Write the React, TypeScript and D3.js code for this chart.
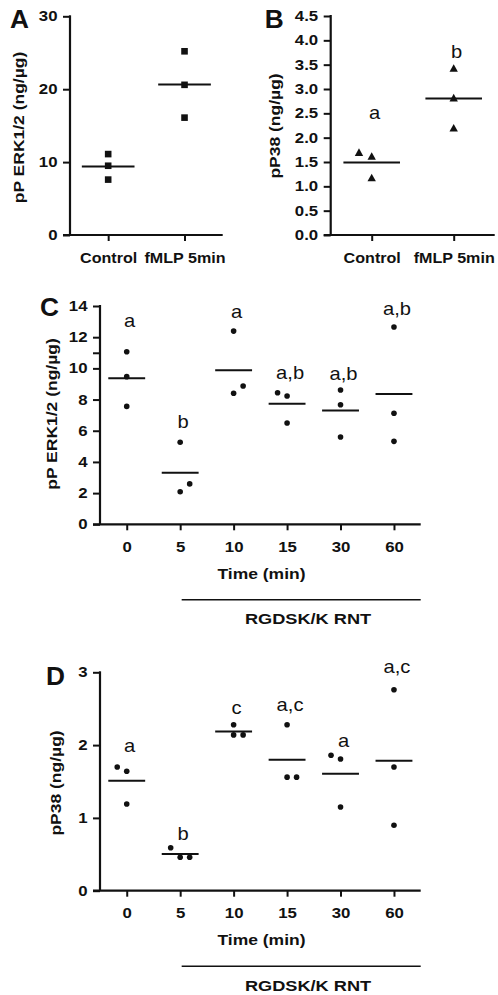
// D3.js — pERK1/2 and pP38 scatter panels (A–D)
import React, { useEffect, useRef } from "react";
import * as d3 from "d3";

// ---- data ----
const abGroups = ["Control", "fMLP 5min"];
const aErk = [[11.1, 9.5, 7.6], [25.2, 20.6, 16.1]];
const aTicks = [0, 10, 20, 30];

const bP38 = [[1.69, 1.61, 1.17], [3.42, 2.81, 2.19]];
const bTicks = [0, 0.5, 1, 1.5, 2, 2.5, 3, 3.5, 4, 4.5];
const bLetters = ["a", "b"];
const bLetterAt = [2.38, 3.63];

const timeGroups = ["0", "5", "10", "15", "30", "60"];
const cErk = [
  [11.07, 9.47, 7.56],
  [5.26, 2.09, 2.59],
  [12.39, 8.4, 8.87],
  [8.44, 8.23, 6.5],
  [8.61, 7.67, 5.6],
  [12.65, 7.12, 5.32],
];
const cTicks = [0, 2, 4, 6, 8, 10, 11, 12, 14];
const cLetters = ["a", "b", "a", "a,b", "a,b", "a,b"];
const cLetterAt = [12.67, 6.19, 13.24, 9.31, 9.25, 13.4];

const dP38 = [
  [1.7, 1.64, 1.19],
  [0.59, 0.46, 0.46],
  [2.28, 2.14, 2.14],
  [2.28, 1.56, 1.56],
  [1.86, 1.81, 1.15],
  [2.76, 1.7, 0.9],
];
const dTicks = [0, 1, 2, 3];
const dLetters = ["a", "b", "c", "a,c", "a", "a,c"];
const dLetterAt = [1.9, 0.7, 2.43, 2.47, 1.98, 2.99];

// side-by-side slot of each point when dots overlap (-1 left, 0 centre, 1 right)
const aSlots = [[0, 0, 0], [0, 0, 0]];
const bSlots = [[-1, 0, 0], [0, 0, 0]];
const cSlots = [[0, 0, 0], [0, 0, 1], [0, 0, 1], [-1, 0, 0], [0, 0, 0], [0, 0, 0]];
const dSlots = [[-1, 0, 0], [-1, 0, 1], [0, 0, 1], [0, 0, 1], [-1, 0, 0], [0, 0, 0]];

const INK = "#111";
const FONT = "'Liberation Sans', Arial, Helvetica, sans-serif";
const SX = 1.2; // text in the figure is set wider than Arial

type Sel = d3.Selection<SVGGElement, unknown, null, undefined>;

function txt(
  g: Sel, x: number, y: number, s: string,
  o: { size: number; bold?: boolean; anchor?: string; rot?: number; sx?: number; dy?: string }
) {
  g.append("g")
    .attr("transform", `translate(${x},${y}) rotate(${o.rot ?? 0}) scale(${o.sx ?? SX},1)`)
    .append("text")
    .attr("text-anchor", o.anchor ?? "middle")
    .attr("dy", o.dy ?? 0)
    .attr("font-family", FONT)
    .attr("font-size", o.size)
    .attr("font-weight", o.bold === false ? "normal" : "bold")
    .attr("fill", INK)
    .text(s);
}

interface Panel {
  title: string; titleX: number; titleY: number;
  ylabel: string; ylabelX: number; ylabelY: number;
  left: number; right: number; top: number; bottom: number; max: number;
  groups: string[]; values: number[][]; slots: number[][];
  ticks: number[]; fmt: (d: number) => string;
  marker: "square" | "triangle" | "circle"; jitter: number;
  letters?: string[]; letterAt?: number[];
  timeAxis?: boolean;
}

function drawPanel(root: Sel, p: Panel) {
  const g = root.append("g");
  const x = d3.scalePoint<string>().domain(p.groups).range([p.left, p.right]).padding(0.5);
  const y = d3.scaleLinear().domain([0, p.max]).range([p.bottom, p.top]);

  // y axis
  const ya = g.append("g")
    .attr("transform", `translate(${p.left},0)`)
    .call(d3.axisLeft(y).tickValues(p.ticks).tickSize(7).tickPadding(5.5).tickFormat(d => p.fmt(+d)));
  ya.select(".domain").remove();
  ya.selectAll(".tick line").attr("stroke", INK).attr("stroke-width", 2);
  ya.selectAll(".tick text")
    .attr("fill", INK).attr("font-size", 14).attr("font-weight", "bold").attr("font-family", FONT)
    .attr("x", -12.5 / SX).attr("transform", `scale(${SX},1)`);

  // x axis
  const xsx = p.timeAxis ? SX : 1.15;
  const xa = g.append("g")
    .attr("transform", `translate(0,${p.bottom})`)
    .call(d3.axisBottom(x).tickSize(6).tickPadding(p.timeAxis ? 11.5 : 12).tickSizeOuter(0));
  xa.select(".domain").remove();
  xa.selectAll(".tick line").attr("stroke", INK).attr("stroke-width", 2);
  xa.selectAll(".tick text")
    .attr("fill", INK).attr("font-size", 14).attr("font-weight", "bold").attr("font-family", FONT)
    .attr("transform", `scale(${xsx},1)`);

  // axis lines
  g.append("line")
    .attr("x1", p.left).attr("x2", p.left).attr("y1", p.bottom).attr("y2", p.top - 1)
    .attr("stroke", INK).attr("stroke-width", 2.2);
  g.append("line")
    .attr("x1", p.left - 7).attr("x2", p.right).attr("y1", p.bottom).attr("y2", p.bottom)
    .attr("stroke", INK).attr("stroke-width", 2.2);

  const step = x.step();

  // mean lines
  g.selectAll("line.mean")
    .data(p.values)
    .join("line")
    .attr("class", "mean")
    .attr("x1", (_, i) => x(p.groups[i])! - step * 0.345)
    .attr("x2", (_, i) => x(p.groups[i])! + step * 0.345)
    .attr("y1", d => y(d3.mean(d)!))
    .attr("y2", d => y(d3.mean(d)!))
    .attr("stroke", INK).attr("stroke-width", 2);

  // points
  const pts = p.values.flatMap((vals, i) =>
    vals.map((v, j) => ({ cx: x(p.groups[i])! + p.slots[i][j] * p.jitter, cy: y(v) }))
  );
  const mk = g.append("g").attr("fill", INK);
  if (p.marker === "circle") {
    mk.selectAll("circle").data(pts).join("circle")
      .attr("cx", d => d.cx).attr("cy", d => d.cy).attr("r", 2.8);
  } else if (p.marker === "square") {
    mk.selectAll("rect").data(pts).join("rect")
      .attr("x", d => d.cx - 3.3).attr("y", d => d.cy - 3.3)
      .attr("width", 6.6).attr("height", 6.6);
  } else {
    mk.selectAll("path").data(pts).join("path")
      .attr("d", d => `M${d.cx},${d.cy - 4.4}L${d.cx + 4.2},${d.cy + 3.2}L${d.cx - 4.2},${d.cy + 3.2}Z`);
  }

  // significance letters
  if (p.letters && p.letterAt) {
    p.letters.forEach((s, i) => {
      txt(g, x(p.groups[i])! + 3, y(p.letterAt![i]), s, { size: 18, bold: false, sx: 1.12 });
    });
  }

  // panel title + y label
  txt(g, p.titleX, p.titleY, p.title, { size: 25, anchor: "start", sx: 1.05 });
  txt(g, p.ylabelX, p.ylabelY, p.ylabel, { size: 14, rot: -90, sx: 1.25, dy: "0.35em" });

  if (p.timeAxis) {
    txt(g, 261.5, p.bottom + 54.5, "Time (min)", { size: 14, sx: 1.25 });
    g.append("line")
      .attr("x1", x(p.groups[1])! + 1.5).attr("x2", p.right)
      .attr("y1", p.bottom + 75.5).attr("y2", p.bottom + 75.5)
      .attr("stroke", INK).attr("stroke-width", 1.6);
    txt(g, 308, p.bottom + 100, "RGDSK/K RNT", { size: 14, sx: 1.3 });
  }
}

const App: React.FC = () => {
  const svgRef = useRef<SVGSVGElement>(null);

  useEffect(() => {
    if (!svgRef.current) return;
    d3.select(svgRef.current).selectAll("*").remove();
    const root = d3.select(svgRef.current).append("g") as unknown as Sel;

    const intFmt = d3.format("d");
    const oneDec = d3.format(".1f");

    drawPanel(root, {
      title: "A", titleX: 10, titleY: 28.3,
      ylabel: "pP ERK1/2 (ng/µg)", ylabelX: 19, ylabelY: 127.5,
      left: 70, right: 222.7, top: 16.3, bottom: 235, max: 30,
      groups: abGroups, values: aErk, slots: aSlots,
      ticks: aTicks, fmt: intFmt, marker: "square", jitter: 0,
    });
    drawPanel(root, {
      title: "B", titleX: 264.7, titleY: 28.3,
      ylabel: "pP38 (ng/µg)", ylabelX: 275.5, ylabelY: 126,
      left: 330.7, right: 494.7, top: 16, bottom: 235, max: 4.5,
      groups: abGroups, values: bP38, slots: bSlots,
      ticks: bTicks, fmt: oneDec, marker: "triangle", jitter: 12.7,
      letters: bLetters, letterAt: bLetterAt,
    });
    drawPanel(root, {
      title: "C", titleX: 40, titleY: 316,
      ylabel: "pP ERK1/2 (ng/µg)", ylabelX: 52.3, ylabelY: 414,
      left: 100, right: 420.7, top: 306, bottom: 524.3, max: 14,
      groups: timeGroups, values: cErk, slots: cSlots,
      ticks: cTicks, fmt: d => (d === 11 ? "" : intFmt(d)), marker: "circle", jitter: 9.5,
      letters: cLetters, letterAt: cLetterAt, timeAxis: true,
    });
    drawPanel(root, {
      title: "D", titleX: 46, titleY: 685,
      ylabel: "pP38 (ng/µg)", ylabelX: 55.7, ylabelY: 783,
      left: 100, right: 420.7, top: 672.3, bottom: 890.7, max: 3,
      groups: timeGroups, values: dP38, slots: dSlots,
      ticks: dTicks, fmt: intFmt, marker: "circle", jitter: 9.5,
      letters: dLetters, letterAt: dLetterAt, timeAxis: true,
    });
  }, []);

  return (
    <svg
      ref={svgRef}
      width={498}
      height={995}
      style={{ position: "absolute", left: 0, top: 0, background: "#fff" }}
    />
  );
};

export default App;
